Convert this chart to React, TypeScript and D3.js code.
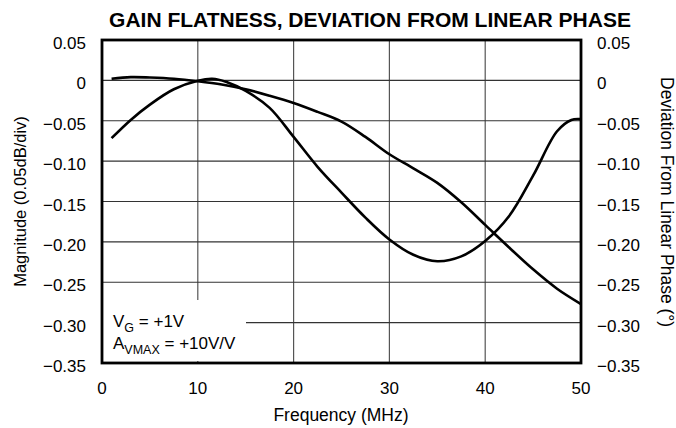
import React from "react";
import * as d3 from "d3";

const xTicks = [0, 10, 20, 30, 40, 50];
const yTicks = [0.05, 0, -0.05, -0.1, -0.15, -0.2, -0.25, -0.3, -0.35];
const yTickLabels = ["0.05", "0", "\u22120.05", "\u22120.10", "\u22120.15", "\u22120.20", "\u22120.25", "\u22120.30", "\u22120.35"];

const freqGain = [1, 3, 5, 7.5, 10, 12.5, 15, 17.5, 20, 22.5, 25, 27.5, 30, 32.5, 35, 37.5, 40, 42.5, 45, 47.5, 50];
const gainValues = [0.002, 0.004, 0.0035, 0.002, -0.001, -0.005, -0.011, -0.019, -0.028, -0.039, -0.051, -0.07, -0.0915, -0.109, -0.127, -0.151, -0.179, -0.207, -0.234, -0.258, -0.277];

const freqPhase = [1, 3, 5, 7.5, 10, 11.5, 13, 15, 17.5, 20, 22.5, 25, 27.5, 30, 32.5, 35, 37.5, 40, 42.5, 45, 47.5, 49, 50];
const phaseValues = [-0.0716, -0.049, -0.03, -0.011, -0.0005, 0.002, -0.002, -0.013, -0.034, -0.07, -0.107, -0.139, -0.17, -0.197, -0.216, -0.224, -0.218, -0.199, -0.168, -0.118, -0.063, -0.049, -0.048];

const W = 676;
const H = 428;
const left = 102;
const right = 581;
const top = 40;
const bottom = 363;
const font = "'Liberation Sans', Arial, Helvetica, sans-serif";

export default function App() {
  const x = d3.scaleLinear().domain([0, 50]).range([left, right]);
  const y = d3.scaleLinear().domain([-0.35, 0.05]).range([bottom, top]);

  const line = d3
    .line<[number, number]>()
    .x((d) => x(d[0]))
    .y((d) => y(d[1]))
    .curve(d3.curveCatmullRom.alpha(0.5));

  const gainPts = freqGain.map((f, i) => [f, gainValues[i]] as [number, number]);
  const phasePts = freqPhase.map((f, i) => [f, phaseValues[i]] as [number, number]);

  return (
    <div style={{ position: "absolute", left: 0, top: 0 }}>
      <svg width={W} height={H} style={{ display: "block", background: "#fff" }}>
        <rect x={0} y={0} width={W} height={H} fill="#fff" />
        <text x={370} y={27} textAnchor="middle" fontFamily={font} fontWeight="bold" fontSize={21} fill="#000">
          GAIN FLATNESS, DEVIATION FROM LINEAR PHASE
        </text>
        {/* grid */}
        {xTicks.slice(1, -1).map((t) => (
          <line key={"vx" + t} x1={x(t)} x2={x(t)} y1={top} y2={bottom} stroke="#555" strokeWidth={1.2} />
        ))}
        {yTicks.slice(1, -1).map((t) => (
          <line key={"hy" + t} x1={left} x2={right} y1={y(t)} y2={y(t)} stroke="#333" strokeWidth={1.2} />
        ))}
        {/* annotation box */}
        <rect x={left} y={300} width={246 - left} height={61} fill="#fff" />
        {/* curves */}
        <path d={line(gainPts) || ""} fill="none" stroke="#000" strokeWidth={2.6} strokeLinejoin="round" />
        <path d={line(phasePts) || ""} fill="none" stroke="#000" strokeWidth={2.6} strokeLinejoin="round" />
        {/* frame */}
        <rect x={left} y={top} width={right - left} height={bottom - top} fill="none" stroke="#000" strokeWidth={2.8} />
        {/* left y tick labels */}
        {yTicks.map((t, i) => (
          <text key={"ly" + i} x={86} y={y(t) + 9} textAnchor="end" fontFamily={font} fontSize={17} fill="#000">
            {yTickLabels[i]}
          </text>
        ))}
        {/* right y tick labels */}
        {yTicks.map((t, i) => (
          <text key={"ry" + i} x={597} y={y(t) + 9} textAnchor="start" fontFamily={font} fontSize={17} fill="#000">
            {yTickLabels[i]}
          </text>
        ))}
        {/* x tick labels */}
        {xTicks.map((t) => (
          <text key={"xt" + t} x={x(t)} y={394} textAnchor="middle" fontFamily={font} fontSize={17} fill="#000">
            {t}
          </text>
        ))}
        <text x={341} y={421} textAnchor="middle" fontFamily={font} fontSize={17.5} fill="#000">
          Frequency (MHz)
        </text>
        <text transform={`translate(26,${(top + bottom) / 2}) rotate(-90)`} textAnchor="middle" fontFamily={font} fontSize={16.5} fill="#000">
          Magnitude (0.05dB/div)
        </text>
        <text transform={`translate(661,77) rotate(90)`} textAnchor="start" fontFamily={font} fontSize={17.5} fill="#000">
          Deviation From Linear Phase (°)
        </text>
        {/* annotation */}
        <text x={113} y={327} fontFamily={font} fontSize={17} fill="#000">
          V<tspan fontSize={12.5} dy={5}>G</tspan>
          <tspan dy={-5}> = +1V</tspan>
        </text>
        <text x={113} y={348.5} fontFamily={font} fontSize={17} fill="#000">
          A<tspan fontSize={12.5} dy={5}>VMAX</tspan>
          <tspan dy={-5}> = +10V/V</tspan>
        </text>
      </svg>
    </div>
  );
}
